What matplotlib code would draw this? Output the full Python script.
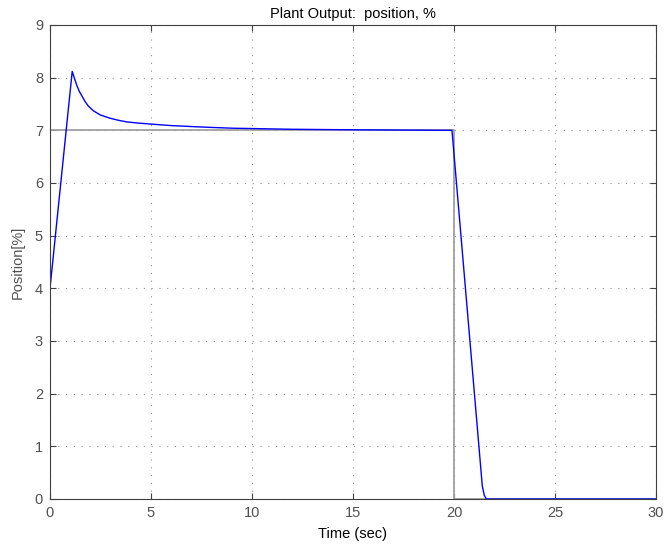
import matplotlib
matplotlib.use('Agg')
import matplotlib.pyplot as plt

# setpoint (grey)
ref_t = [0, 20, 20, 30]
ref_y = [7, 7, 0, 0]

# plant output (blue)
out_t = [0, 1.10, 1.2, 1.32, 1.45, 1.6, 1.73, 1.9, 2.15, 2.5, 2.97, 3.4, 3.8,
         4.3, 4.95, 6.0, 7.1, 8.0, 9.07, 12.0, 15.0, 19.9,
         21.4, 21.5, 21.6, 30]
out_y = [4, 8.12, 8.0, 7.86, 7.74, 7.64, 7.55, 7.46, 7.37, 7.29, 7.23, 7.19, 7.16,
         7.14, 7.12, 7.09, 7.07, 7.055, 7.04, 7.02, 7.01, 7.0,
         0.25, 0.07, 0.0, 0.0]

xticks = [0, 5, 10, 15, 20, 25, 30]
yticks = [0, 1, 2, 3, 4, 5, 6, 7, 8, 9]

plt.rcParams['font.family'] = ['Liberation Sans', 'DejaVu Sans']
fig = plt.figure(figsize=(6.66, 5.46), dpi=100, facecolor='w')
ax = fig.add_axes([50 / 666, 47 / 546, 606 / 666, 474 / 546])

ax.plot(ref_t, ref_y, color='#a0a0a0', lw=1.3)
ax.plot(out_t, out_y, color='#0000ff', lw=1.0)

ax.set_xlim(0, 30)
ax.set_ylim(0, 9)
ax.set_xticks(xticks)
ax.set_yticks(yticks)
ax.grid(True, color='#909090', linestyle=(0, (1, 6)), lw=0.8)
ax.tick_params(direction='in', length=4, colors='#404040', labelcolor='#505050',
               labelsize=10.5, top=True, right=True, pad=5)
for s in ax.spines.values():
    s.set_color('#404040')

ax.set_title('Plant Output:  position, %', fontsize=10.5, pad=5)
ax.set_xlabel('Time (sec)', fontsize=10.5, labelpad=5)
ax.set_ylabel('Position[%]', fontsize=10.5, color='#505050', labelpad=7)

fig.savefig('out.png', dpi=100)
